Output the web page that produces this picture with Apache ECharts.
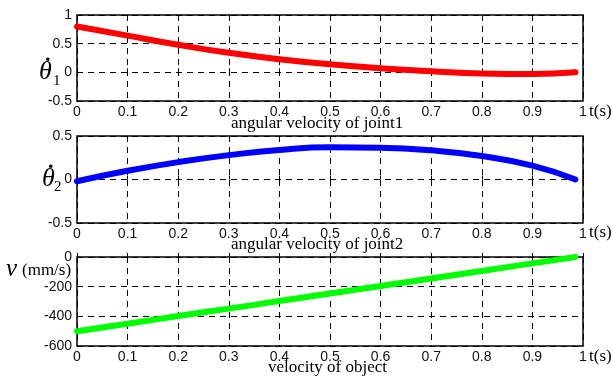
<!DOCTYPE html>
<html><head><meta charset="utf-8">
<script src="https://cdn.jsdelivr.net/npm/echarts@6/dist/echarts.min.js"></script>
<style>html,body{margin:0;padding:0;background:#fff}#c{width:613px;height:379px}</style>
</head><body><div id="c"></div>
<script>
const tJoint1 = [0, 0.1, 0.2, 0.3, 0.4, 0.5, 0.6, 0.7, 0.8, 0.9, 0.985];
const joint1Vel = [0.80, 0.64, 0.48, 0.34, 0.23, 0.14, 0.07, 0.02, -0.02, -0.03, 0.0];
const tJoint2 = [0, 0.1, 0.2, 0.3, 0.4, 0.5, 0.6, 0.7, 0.8, 0.9, 0.985];
const joint2Vel = [-0.02, 0.10, 0.20, 0.28, 0.34, 0.37, 0.365, 0.335, 0.27, 0.16, 0.0];
const tObject = [0, 0.1, 0.2, 0.3, 0.4, 0.5, 0.6, 0.7, 0.8, 0.9, 0.985];
const objectVel = [-500, -450, -398, -348, -297, -246, -195, -145, -94, -43, 0];
const xTicks = [0, 0.1, 0.2, 0.3, 0.4, 0.5, 0.6, 0.7, 0.8, 0.9, 1];
const titles = ['angular velocity of joint1', 'angular velocity of joint2', 'velocity of object'];

const chart = echarts.init(document.getElementById('c'));
const sans = 'Liberation Sans';
const serif = 'Liberation Serif';
const grids = [
  {left: 77, width: 506, top: 15, height: 86},
  {left: 77, width: 506, top: 136, height: 87},
  {left: 77, width: 506, top: 257, height: 89}
].map(g => Object.assign(g, {show: true, borderColor: '#000', borderWidth: 1.5, backgroundColor: '#fff'}));

const splitLine = {show: true, lineStyle: {color: '#000', type: [6, 5], width: 1}};
function xAxis(i) {
  return {type: 'value', gridIndex: i, min: 0, max: 1, interval: 0.1,
    axisLine: {show: false}, axisTick: {show: true, inside: true, length: 4, lineStyle: {color: '#000'}},
    splitLine: splitLine,
    axisLabel: {color: '#111', fontFamily: sans, fontSize: 14, margin: 4,
      formatter: v => String(+v.toFixed(1))}};
}
function yAxis(i, min, max, interval) {
  return {type: 'value', gridIndex: i, min: min, max: max, interval: interval,
    axisLine: {show: false}, axisTick: {show: true, inside: true, length: 4, lineStyle: {color: '#000'}},
    splitLine: splitLine,
    axisLabel: {color: '#111', fontFamily: sans, fontSize: 14, margin: 5}};
}
function series(i, xs, ys, color) {
  return {type: 'line', xAxisIndex: i, yAxisIndex: i, smooth: true, showSymbol: false,
    data: xs.map((x, k) => [x, ys[k]]), lineStyle: {color: color, width: 6, cap: 'round'}};
}
function txt(x, y, text, font) {
  return {type: 'text', left: x, top: y, z: 100, style: {text: text, font: font, fill: '#000'}};
}
const tsY = [103, 224, 348];
const graphic = [
  txt(231, 115, titles[0], '17px ' + serif),
  txt(231, 236, titles[1], '17px ' + serif),
  txt(268, 359, titles[2], '17px ' + serif),
  txt(39, 59, 'θ', 'italic 26px ' + serif),
  txt(45, 44, '.', 'bold 22px ' + serif),
  txt(53, 74, '1', '15px ' + serif),
  txt(42, 166, 'θ', 'italic 26px ' + serif),
  txt(48, 151, '.', 'bold 22px ' + serif),
  txt(54, 180, '2', '15px ' + serif),
  txt(6, 257, 'ν', 'italic 25px ' + serif),
  txt(22, 262, '(mm/s)', '17px ' + serif)
];
tsY.forEach(y => graphic.push(txt(589, y, 't(s)', '17px ' + serif)));

chart.setOption({
  animation: false,
  grid: grids,
  xAxis: [xAxis(0), xAxis(1), xAxis(2)],
  yAxis: [yAxis(0, -0.5, 1, 0.5), yAxis(1, -0.5, 0.5, 0.5), yAxis(2, -600, 0, 200)],
  series: [
    series(0, tJoint1, joint1Vel, '#ff0000'),
    series(1, tJoint2, joint2Vel, '#0000ff'),
    series(2, tObject, objectVel, '#00ff00')
  ],
  graphic: graphic
});
</script></body></html>
